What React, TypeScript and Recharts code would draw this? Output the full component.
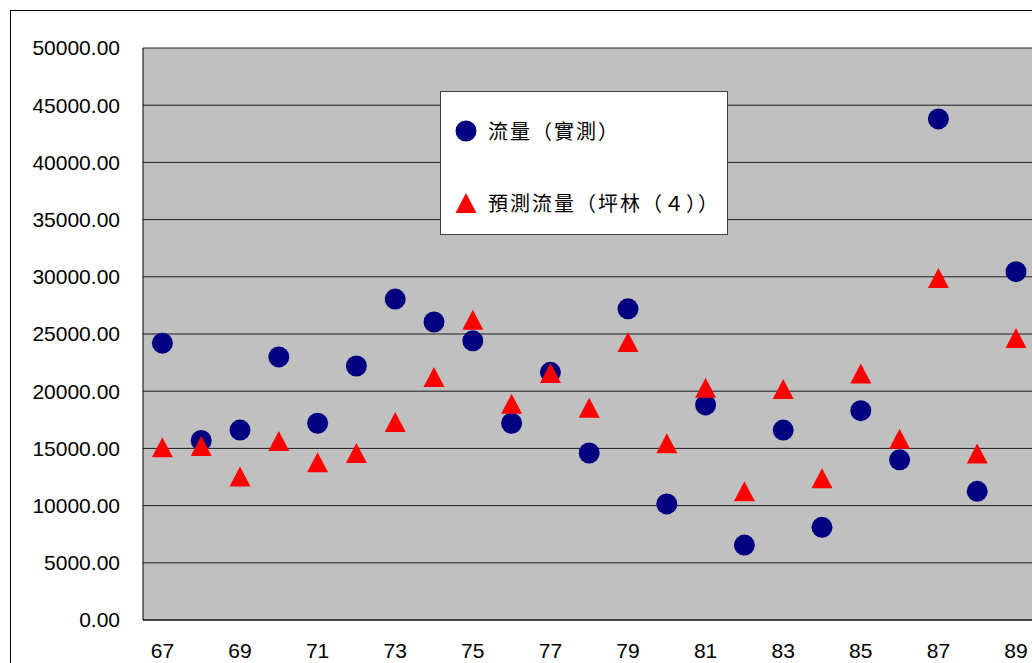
import React from "react"
import {
  ScatterChart,
  Scatter,
  XAxis,
  YAxis,
  CartesianGrid,
  Legend,
} from "recharts"

// 民國年份
const years = [
  67, 68, 69, 70, 71, 72, 73, 74, 75, 76, 77, 78, 79, 80, 81, 82, 83, 84, 85,
  86, 87, 88, 89,
]

// 流量(實測)
const measured = [
  24200, 15700, 16600, 23000, 17200, 22200, 28050, 26050, 24400, 17200, 21650,
  14600, 27200, 10150, 18800, 6550, 16600, 8100, 18300, 14000, 43800, 11250,
  30450,
]

// 預測流量(坪林(4))
const predicted = [
  15100, 15200, 12550, 15650, 13800, 14600, 17300, 21250, 26250, 18900, 21600,
  18550, 24300, 15450, 20300, 11250, 20200, 12400, 21550, 15850, 29900, 14550,
  24650,
]

const yTicks = [
  0, 5000, 10000, 15000, 20000, 25000, 30000, 35000, 40000, 45000, 50000,
]
const xLabelTicks = [67, 69, 71, 73, 75, 77, 79, 81, 83, 85, 87, 89]
const xMarkTicks = [68.5, 70.5, 72.5, 74.5, 76.5, 78.5, 80.5, 82.5, 84.5, 86.5, 88.5]

const measuredData = years.map((year, i) => ({ year, value: measured[i] }))
const predictedData = years.map((year, i) => ({ year, value: predicted[i] }))

const NAVY = "#000080"
const RED = "#FF0000"

const CircleDot = (props: any) => {
  const { cx, cy } = props
  return <circle cx={cx} cy={cy} r={10.5} fill={NAVY} />
}

const TriangleDot = (props: any) => {
  const { cx, cy } = props
  const w = 21
  const h = 20
  return (
    <polygon
      points={`${cx},${cy - h / 2} ${cx + w / 2},${cy + h / 2} ${cx - w / 2},${cy + h / 2}`}
      fill={RED}
    />
  )
}

const legendText = {
  fontFamily: '"Noto Sans CJK TC", sans-serif',
  fontSize: 20,
  letterSpacing: 2,
  color: "#000",
}

function ChartLegend() {
  return (
    <div
      style={{
        width: 288,
        height: 144,
        background: "#fff",
        border: "1px solid #404040",
        boxSizing: "border-box",
        position: "relative",
      }}
    >
      <div style={{ position: "absolute", left: 14, top: 24, display: "flex", alignItems: "center" }}>
        <svg width={22} height={22} style={{ marginRight: 11 }}>
          <circle cx={11} cy={11} r={10.5} fill={NAVY} />
        </svg>
        <span style={legendText}>流量（實測）</span>
      </div>
      <div style={{ position: "absolute", left: 14, top: 96, display: "flex", alignItems: "center" }}>
        <svg width={22} height={22} style={{ marginRight: 11 }}>
          <polygon points="11,1 21.5,21 0.5,21" fill={RED} />
        </svg>
        <span style={legendText}>預測流量（坪林（４））</span>
      </div>
    </div>
  )
}

const axisTick = {
  fill: "#000",
  fontSize: 21,
  fontFamily: '"Liberation Sans", Arial, sans-serif',
}

export default function App() {
  return (
    <div
      style={{
        position: "fixed",
        inset: 0,
        overflow: "hidden",
        background: "#fff",
      }}
    >
      <div
        style={{
          position: "absolute",
          left: 10,
          top: 10,
          width: 1200,
          height: 900,
          border: "1px solid #000",
        }}
      />
      <div style={{ position: "absolute", left: 0, top: 0 }}>
        <ScatterChart
          width={1100}
          height={700}
          margin={{ top: 48, right: 64.6, bottom: 40, left: 0 }}
        >
          <CartesianGrid
            vertical={false}
            stroke="#000"
            strokeOpacity={0.85}
            fill="#C0C0C0"
            fillOpacity={1}
          />
          <XAxis
            type="number"
            dataKey="year"
            domain={[66.5, 89.5]}
            ticks={xLabelTicks}
            interval={0}
            height={40}
            axisLine={{ stroke: "#000" }}
            tickLine={false}
            tickSize={0}
            tickMargin={23}
            tick={axisTick}
          />
          <XAxis
            xAxisId="marks"
            type="number"
            dataKey="year"
            domain={[66.5, 89.5]}
            ticks={xMarkTicks}
            interval={0}
            mirror
            height={0}
            axisLine={false}
            tickLine={{ stroke: "#000" }}
            tickSize={6}
            tickFormatter={() => ""}
          />
          <YAxis
            type="number"
            dataKey="value"
            domain={[0, 50000]}
            ticks={yTicks}
            interval={0}
            width={143}
            axisLine={{ stroke: "#000" }}
            tickLine={false}
            tickSize={0}
            tickMargin={23}
            tick={axisTick}
            tickFormatter={(v: number) => v.toFixed(2)}
          />
          <Legend
            layout="vertical"
            align="center"
            verticalAlign="middle"
            content={<ChartLegend />}
            wrapperStyle={{ left: 440, top: 91, width: 288, height: 144 }}
          />
          <Scatter
            name="流量(實測)"
            data={measuredData}
            shape={<CircleDot />}
            isAnimationActive={false}
          />
          <Scatter
            name="預測流量(坪林(4))"
            data={predictedData}
            shape={<TriangleDot />}
            isAnimationActive={false}
          />
        </ScatterChart>
      </div>
    </div>
  )
}
